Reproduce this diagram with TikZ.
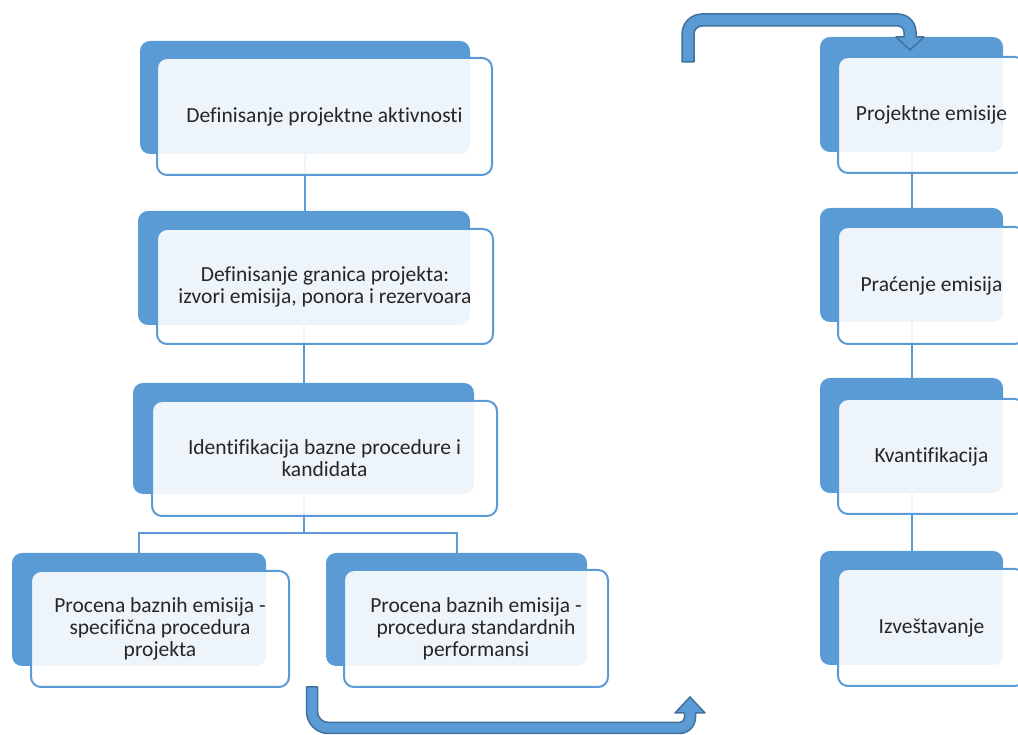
\documentclass[tikz,border=0pt]{standalone}
\usepackage{fontspec}
\setmainfont[Ligatures=NoCommon]{Carlito}
\definecolor{accent}{HTML}{5B9BD5}
\definecolor{accentdark}{HTML}{41719C}
\definecolor{txt}{HTML}{262626}
\pgfdeclarelayer{bg}
\pgfsetlayers{bg,main}
\tikzset{
  backbox/.style={rectangle, rounded corners=10pt, fill=accent, draw=none, inner sep=0pt},
  frontbox/.style={rectangle, rounded corners=10pt, draw=accent, line width=2pt,
    fill=white, fill opacity=0.9, text opacity=1, text=txt, align=center, inner sep=0pt,
    font=\fontsize{21.5}{22}\selectfont},
  link/.style={draw=accent, line width=2pt},
  bigarrow/.style={fill=accent, draw=accentdark, line width=1.5pt, line join=round},
}
\begin{document}
\begin{tikzpicture}[x=1pt,y=1pt]
\useasboundingbox (0,0) rectangle (1018,735);
\clip (0,0) rectangle (1018,735);

% back tabs, left column
\node[backbox, minimum width=330pt, minimum height=113pt] (b1) at (305,637.5) {};
\node[backbox, minimum width=332pt, minimum height=114pt] (b2) at (304,467) {};
\node[backbox, minimum width=341pt, minimum height=111pt] (b3) at (303.5,296.5) {};
\node[backbox, minimum width=254pt, minimum height=113pt] (b4) at (139,125.5) {};
\node[backbox, minimum width=261pt, minimum height=113pt] (b5) at (456.5,125.5) {};
% back tabs, right column
\node[backbox, minimum width=183pt, minimum height=115pt] (b6) at (911.5,640.5) {};
\node[backbox, minimum width=183pt, minimum height=114pt] (b7) at (911.5,470) {};
\node[backbox, minimum width=183pt, minimum height=115pt] (b8) at (911.5,299.5) {};
\node[backbox, minimum width=183pt, minimum height=114pt] (b9) at (911.5,127) {};

% connectors run behind the boxes
\begin{pgfonlayer}{bg}
  \draw[link] (b1.south) -- (b1.south |- b2.north);
  \draw[link] (b2.south) -- (b2.south |- b3.north);
  \draw[link] (b3.south) -- ++(0,-39) -| (b4.north);
  \draw[link] (b3.south) ++(0,-39) -| (b5.north);
  \draw[link] (b6.south) -- (b7.north);
  \draw[link] (b7.south) -- (b8.north);
  \draw[link] (b8.south) -- (b9.north);
\end{pgfonlayer}

% front cards with the texts
\node[frontbox, minimum width=335pt, minimum height=117pt] (f1) at (324.5,618.5)
  {Definisanje projektne aktivnosti};
\node[frontbox, minimum width=336pt, minimum height=115pt] (f2) at (325,448.5)
  {Definisanje granica projekta:\\ izvori emisija, ponora i rezervoara};
\node[frontbox, minimum width=345pt, minimum height=115pt] (f3) at (324.5,276.5)
  {Identifikacija bazne procedure i\\ kandidata};
\node[frontbox, minimum width=258pt, minimum height=116pt] (f4) at (160,106)
  {Procena baznih emisija -\\ specifična procedura\\ projekta};
\node[frontbox, minimum width=264pt, minimum height=117pt] (f5) at (476,106.5)
  {Procena baznih emisija -\\ procedura standardnih\\ performansi};
\node[frontbox, minimum width=187pt, minimum height=116pt] (f6) at (931.5,620)
  {Projektne emisije};
\node[frontbox, minimum width=187pt, minimum height=117pt] (f7) at (931.5,449.5)
  {Praćenje emisija};
\node[frontbox, minimum width=187pt, minimum height=115pt] (f8) at (931.5,278.5)
  {Kvantifikacija};
\node[frontbox, minimum width=187pt, minimum height=117pt] (f9) at (931.5,107.5)
  {Izveštavanje};

% U-turn arrow under the left column
\draw[bigarrow] (306.5,48) -- (306.5,23.5)
  arc[start angle=180, end angle=270, radius=22] -- (679.5,1.5)
  arc[start angle=270, end angle=360, radius=16] -- (695.5,22) -- (705,22)
  -- (690,38) -- (675,22) -- (684.5,22) -- (684.5,17.5)
  arc[start angle=0, end angle=-90, radius=5] -- (328.5,12.5)
  arc[start angle=270, end angle=180, radius=11] -- (317.5,48) -- cycle;

% bent arrow into the right column
\draw[bigarrow] (682,673) -- (682,701)
  arc[start angle=180, end angle=90, radius=20] -- (898,721)
  arc[start angle=90, end angle=0, radius=18] -- (916,698) -- (924,698)
  -- (910,685) -- (896,698) -- (904,698) -- (904,703)
  arc[start angle=0, end angle=90, radius=6] -- (702,709)
  arc[start angle=90, end angle=180, radius=8] -- (694,673) -- cycle;
\end{tikzpicture}
\end{document}
